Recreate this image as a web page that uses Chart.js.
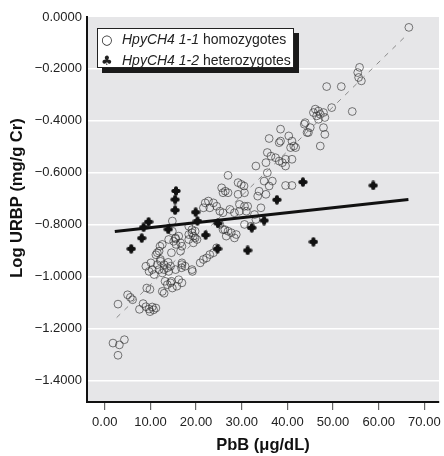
<!DOCTYPE html>
<html>
<head>
<meta charset="utf-8">
<script src="https://cdn.jsdelivr.net/npm/chart.js@4"></script>
<style>
  body { margin: 0; background: #fff; }
  #wrap { position: relative; width: 444px; height: 456px; }
  #legend {
    position: absolute; left: 97px; top: 28px; width: 197px; height: 40px;
    background: #fff; border: 1px solid #222; box-shadow: 5px 5px 0 #1a1a1a;
    font-family: 'Liberation Sans', Arial, sans-serif;
    font-size: 14px; color: #222; line-height: 20px; padding: 0 0 0 3px; box-sizing: border-box;
  }
  #legend .row { white-space: nowrap; }
  #legend .sym { display: inline-block; width: 21px; font-family: 'DejaVu Sans', sans-serif; font-size: 13px; }
</style>
</head>
<body>
<div id="wrap">
  <canvas id="chart" width="444" height="456"></canvas>
  <div id="legend">
    <div class="row"><span class="sym">○</span><i>HpyCH4 1-1</i> homozygotes</div>
    <div class="row"><span class="sym">♣</span><i>HpyCH4 1-2</i> heterozygotes</div>
  </div>
</div>
<script>
// PbB (ug/dL), Log URBP pairs
const homozygotes = [
  [1.8, -1.256], [3.2, -1.263], [4.3, -1.243], [2.9, -1.303],
  [2.9, -1.106], [5.0, -1.070], [5.6, -1.080], [6.1, -1.089],
  [9.2, -1.044], [9.9, -1.049],
  [7.6, -1.126], [8.4, -1.104], [9.0, -1.116], [9.7, -1.125], [10.4, -1.117], [11.2, -1.121], [9.9, -1.135], [10.7, -1.128],
  [12.6, -1.057], [13.0, -1.064], [13.7, -1.031], [13.2, -1.018], [14.4, -1.024], [14.8, -1.044],
  [10.1, -0.947], [10.4, -0.973], [12.2, -0.941], [11.5, -0.954], [13.9, -0.945], [14.4, -0.960], [14.0, -0.980], [13.0, -0.973], [11.9, -0.973],
  [11.9, -0.902], [12.1, -0.883], [12.6, -0.876], [11.5, -0.908], [11.2, -0.916], [12.2, -0.934],
  [15.1, -0.864], [15.5, -0.855], [15.6, -0.876], [16.9, -0.883], [16.6, -0.902], [14.6, -0.908],
  [16.9, -0.947], [16.8, -0.966], [17.6, -0.960], [19.2, -0.980], [16.2, -1.012], [16.9, -1.024], [15.8, -1.037], [14.6, -1.018],
  [13.0, -0.954], [13.7, -0.966], [15.5, -0.973], [16.9, -0.954], [19.1, -0.973],
  [9.0, -0.960], [9.7, -0.980], [10.8, -0.992], [12.6, -0.986],
  [19.1, -0.831], [19.8, -0.851], [19.4, -0.870], [18.4, -0.857],
  [14.8, -0.786], [14.8, -0.825], [15.5, -0.851], [16.2, -0.844], [16.6, -0.870], [14.0, -0.857],
  [18.4, -0.806], [19.1, -0.819], [19.8, -0.825], [19.4, -0.844], [20.2, -0.857], [18.4, -0.838],
  [20.9, -0.947], [21.6, -0.934], [22.3, -0.928], [23.0, -0.915], [23.8, -0.908], [24.5, -0.889],
  [25.2, -0.799], [25.9, -0.819], [27.0, -0.825], [27.7, -0.831], [28.8, -0.838], [26.6, -0.844], [28.4, -0.851], [26.3, -0.819],
  [22.0, -0.716], [22.7, -0.709], [23.8, -0.716], [23.0, -0.735], [21.6, -0.735], [24.5, -0.729],
  [25.2, -0.748], [25.9, -0.754], [27.4, -0.741], [28.4, -0.754], [29.5, -0.748],
  [25.6, -0.658], [26.4, -0.671], [27.0, -0.677], [25.9, -0.677], [29.2, -0.683], [30.6, -0.677],
  [27.0, -0.610], [29.2, -0.638], [29.9, -0.645], [30.5, -0.651],
  [30.6, -0.729], [31.0, -0.748], [32.8, -0.761], [33.1, -0.780], [32.0, -0.806], [30.6, -0.799],
  [33.5, -0.690], [35.3, -0.683], [34.2, -0.735], [31.3, -0.729], [29.5, -0.722],
  [33.1, -0.574], [35.3, -0.561], [35.6, -0.600], [34.9, -0.632], [36.0, -0.651], [33.8, -0.671],
  [36.7, -0.632], [39.6, -0.649], [41.0, -0.649],
  [35.6, -0.522], [36.4, -0.536], [37.4, -0.542], [38.2, -0.555], [38.9, -0.561], [39.6, -0.574], [39.6, -0.548], [41.0, -0.548],
  [36.0, -0.468], [38.2, -0.484], [40.3, -0.458], [41.0, -0.478], [41.4, -0.497], [40.7, -0.503], [41.8, -0.503], [38.5, -0.478],
  [38.5, -0.432], [43.7, -0.413], [44.3, -0.445],
  [43.9, -0.407], [45.0, -0.426], [44.6, -0.445], [47.9, -0.426], [48.2, -0.452], [47.2, -0.497],
  [46.1, -0.355], [46.8, -0.362], [47.2, -0.375], [46.4, -0.381], [45.7, -0.368], [47.9, -0.368], [49.7, -0.349], [48.2, -0.387], [46.8, -0.394],
  [48.6, -0.268], [51.8, -0.268], [54.2, -0.364],
  [55.8, -0.194], [55.4, -0.214], [56.2, -0.246], [55.6, -0.233],
  [66.6, -0.040]
];

const heterozygotes = [
  [5.8, -0.893], [8.1, -0.852], [8.5, -0.810], [9.6, -0.789], [13.9, -0.818],
  [15.6, -0.670], [15.4, -0.703], [15.4, -0.744], [19.9, -0.752], [20.3, -0.786],
  [22.1, -0.840], [24.7, -0.893], [24.8, -0.795], [31.3, -0.899], [32.2, -0.812],
  [34.9, -0.784], [37.7, -0.704], [43.4, -0.636], [45.7, -0.866], [58.8, -0.649]
];

// fitted lines, end points
const homoFitX = [2.6, 66.1];
const homoFitY = [-1.158, -0.070];
const hetFitX = [2.2, 66.5];
const hetFitY = [-0.826, -0.703];

const xTicks = [0, 10, 20, 30, 40, 50, 60, 70];
const yTicks = [0, -0.2, -0.4, -0.6, -0.8, -1.0, -1.2, -1.4];

const FONT = "'Liberation Sans', Arial, sans-serif";

function toPoints(rows) {
  return rows.map(([x, y]) => ({ x, y }));
}

// fat rounded plus, like the heterozygote marker
function blobPlus() {
  const c = document.createElement("canvas");
  c.width = 10;
  c.height = 10;
  const g = c.getContext("2d");
  g.strokeStyle = "#111";
  g.lineWidth = 4;
  g.lineCap = "round";
  g.beginPath();
  g.moveTo(2.3, 5);
  g.lineTo(7.7, 5);
  g.moveTo(5, 2.3);
  g.lineTo(5, 7.7);
  g.stroke();
  return c;
}

const plotBackground = {
  id: "plotBackground",
  beforeDraw(chart) {
    const { ctx, chartArea } = chart;
    ctx.save();
    ctx.fillStyle = "#e6e6e8";
    ctx.fillRect(chartArea.left, chartArea.top, chartArea.right - chartArea.left, chartArea.bottom - chartArea.top);
    ctx.restore();
  },
};

const minus = (s) => s.replace("-", "\u2212");

new Chart(document.getElementById("chart"), {
  type: "scatter",
  data: {
    datasets: [
      {
        label: "HpyCH4 1-2 heterozygotes",
        data: toPoints(heterozygotes),
        pointStyle: blobPlus(),
      },
      {
        label: "het fit",
        data: hetFitX.map((x, i) => ({ x, y: hetFitY[i] })),
        showLine: true,
        pointRadius: 0,
        borderColor: "#111",
        borderWidth: 3,
      },
      {
        label: "homo fit",
        data: homoFitX.map((x, i) => ({ x, y: homoFitY[i] })),
        showLine: true,
        pointRadius: 0,
        borderColor: "#8a8a8a",
        borderWidth: 1,
        borderDash: [5, 6],
      },
      {
        label: "HpyCH4 1-1 homozygotes",
        data: toPoints(homozygotes),
        pointStyle: "circle",
        pointRadius: 3.9,
        backgroundColor: "rgba(0,0,0,0)",
        borderColor: "rgba(45,45,45,0.7)",
        borderWidth: 0.9,
      },
    ],
  },
  options: {
    responsive: false,
    animation: false,
    layout: { padding: { top: 17, right: 0, left: 0, bottom: 0 } },
    plugins: { legend: { display: false }, tooltip: { enabled: false } },
    scales: {
      x: {
        type: "linear",
        min: -3.89,
        max: 73.2,
        afterBuildTicks: (axis) => { axis.ticks = xTicks.map((value) => ({ value })); },
        afterFit: (axis) => { axis.height = 54; axis.paddingLeft = 0; axis.paddingRight = 0; },
        grid: { drawOnChartArea: false, drawTicks: true, tickLength: 8, color: "#666", lineWidth: 1.2 },
        border: { display: true, color: "#111", width: 2 },
        ticks: {
          padding: 5,
          color: "#222",
          font: { family: FONT, size: 13 },
          callback: (v) => Number(v).toFixed(2),
        },
        title: {
          display: true,
          text: "PbB (\u03bcg/dL)",
          color: "#111",
          font: { family: FONT, size: 16.5, weight: "bold" },
          padding: { top: 0, bottom: 1 },
        },
      },
      y: {
        type: "linear",
        min: -1.483,
        max: 0,
        afterBuildTicks: (axis) => { axis.ticks = yTicks.map((value) => ({ value })); },
        afterFit: (axis) => { axis.width = 87; },
        grid: {
          drawTicks: false,
          color: (c) => (c.tick && c.tick.value === 0 ? "rgba(0,0,0,0)" : "#ffffff"),
          lineWidth: 1.5,
        },
        border: { display: true, color: "#111", width: 2 },
        ticks: {
          padding: 5,
          color: "#222",
          font: { family: FONT, size: 13 },
          callback: (v) => minus(Number(v).toFixed(4)),
        },
        title: {
          display: true,
          // leading spaces lift the centred text a little, as in the source
          text: "     Log URBP (mg/g Cr)",
          color: "#111",
          font: { family: FONT, size: 16.5, weight: "bold" },
          padding: { top: 8, bottom: 0 },
        },
      },
    },
  },
  plugins: [plotBackground],
});
</script>
</body>
</html>
